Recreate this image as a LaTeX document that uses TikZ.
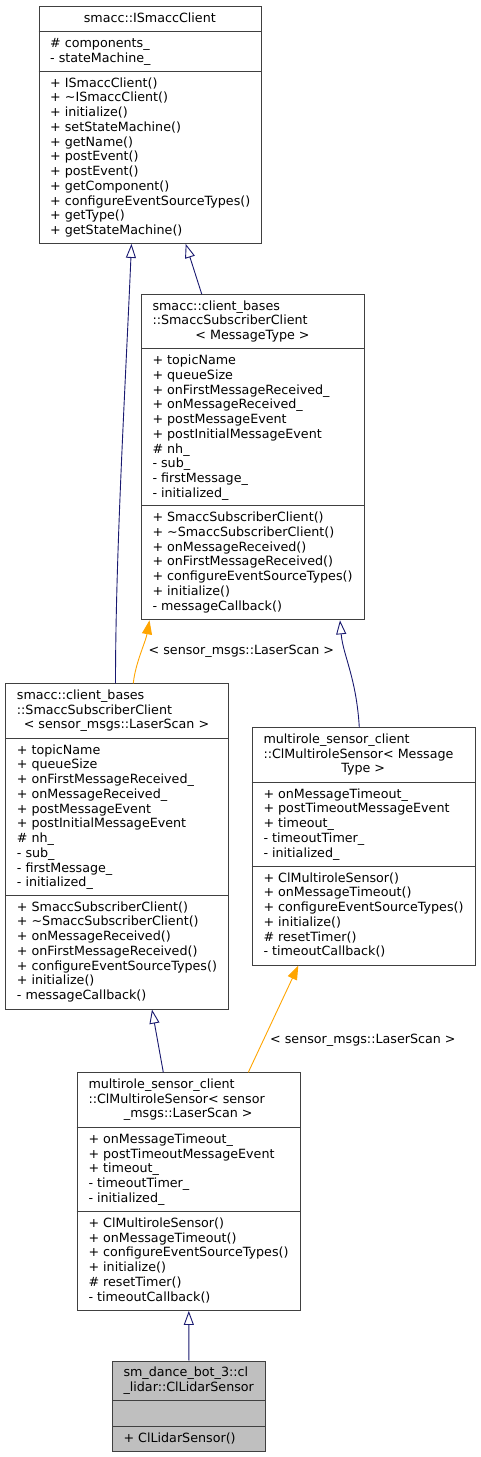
\documentclass[tikz,border=0pt]{standalone}
\usepackage{fontspec}
\setmainfont{DejaVu Sans}
\usetikzlibrary{arrows.meta}
\definecolor{boxgray}{HTML}{404040}
\definecolor{inhblue}{HTML}{191970}
\definecolor{tmplorange}{HTML}{FFA500}
\definecolor{leafgray}{HTML}{BFBFBF}
\begin{document}
\begin{tikzpicture}[x=1pt, y=-1pt,
  cls/.style={draw=boxgray, line width=0.9pt, anchor=north west, inner sep=0pt},
  sep/.style={draw=boxgray, line width=0.9pt},
  memb/.style={anchor=north west, inner sep=0pt, align=left, font=\fontsize{12.7}{14.75}\selectfont},
  ctitle/.style={anchor=north, inner sep=0pt, font=\fontsize{12.7}{14.75}\selectfont},
  inh/.style={draw=inhblue, line width=0.9pt, -{Triangle[open, length=14pt, width=10pt]}},
  tmpl/.style={draw=tmplorange, line width=0.9pt, -{Triangle[length=14pt, width=10pt]}},
  lbl/.style={anchor=west, inner sep=0pt, font=\fontsize{12.7}{14.75}\selectfont}]
\fill[white] (0,0) rectangle (480,1457);

% smacc::ISmaccClient
\node[cls, minimum width=222.3pt, minimum height=237pt] (isc) at (38.7,6) {};
\draw[sep] ([yshift=-25.3pt]isc.north west) -- ([yshift=-25.3pt]isc.north east);
\draw[sep] ([yshift=-65pt]isc.north west) -- ([yshift=-65pt]isc.north east);
\node[ctitle] (iscT) at (149.8,11.5) {\strut smacc::ISmaccClient};
\node[memb] (iscA) at (50,36.8) {\strut\# components\_\\- stateMachine\_};
\node[memb] (iscM) at (50,76.5) {\strut + ISmaccClient()\\+ \textasciitilde ISmaccClient()\\+ initialize()\\+ setStateMachine()\\+ getName()\\+ postEvent()\\+ postEvent()\\+ getComponent()\\+ configureEventSourceTypes()\\+ getType()\\+ getStateMachine()};

% smacc::client_bases::SmaccSubscriberClient< MessageType >
\node[cls, minimum width=222.4pt, minimum height=325.4pt] (subMsg) at (141.3,294) {};
\draw[sep] ([yshift=-54.7pt]subMsg.north west) -- ([yshift=-54.7pt]subMsg.north east);
\draw[sep] ([yshift=-211.7pt]subMsg.north west) -- ([yshift=-211.7pt]subMsg.north east);
\node[memb] (subMsgT) at (152.3,299.5) {\strut smacc::client\_bases\\::SmaccSubscriberClient};
\node[ctitle] (subMsgT2) at (252.5,329) {\strut < MessageType >};
\node[memb] (subMsgA) at (152.3,354.2) {\strut + topicName\\+ queueSize\\+ onFirstMessageReceived\_\\+ onMessageReceived\_\\+ postMessageEvent\\+ postInitialMessageEvent\\\# nh\_\\- sub\_\\- firstMessage\_\\- initialized\_};
\node[memb] (subMsgM) at (152.3,511.2) {\strut + SmaccSubscriberClient()\\+ \textasciitilde SmaccSubscriberClient()\\+ onMessageReceived()\\+ onFirstMessageReceived()\\+ configureEventSourceTypes()\\+ initialize()\\- messageCallback()};

% smacc::client_bases::SmaccSubscriberClient< sensor_msgs::LaserScan >
\node[cls, minimum width=223pt, minimum height=325.4pt] (subScan) at (5,683.3) {};
\draw[sep] ([yshift=-54.7pt]subScan.north west) -- ([yshift=-54.7pt]subScan.north east);
\draw[sep] ([yshift=-211.7pt]subScan.north west) -- ([yshift=-211.7pt]subScan.north east);
\node[memb] (subScanT) at (16.7,688.8) {\strut smacc::client\_bases\\::SmaccSubscriberClient};
\node[ctitle] (subScanT2) at (116.5,718.3) {\strut < sensor\_msgs::LaserScan >};
\node[memb] (subScanA) at (16.7,743.5) {\strut + topicName\\+ queueSize\\+ onFirstMessageReceived\_\\+ onMessageReceived\_\\+ postMessageEvent\\+ postInitialMessageEvent\\\# nh\_\\- sub\_\\- firstMessage\_\\- initialized\_};
\node[memb] (subScanM) at (16.7,900.5) {\strut + SmaccSubscriberClient()\\+ \textasciitilde SmaccSubscriberClient()\\+ onMessageReceived()\\+ onFirstMessageReceived()\\+ configureEventSourceTypes()\\+ initialize()\\- messageCallback()};

% multirole_sensor_client::ClMultiroleSensor< MessageType >
\node[cls, minimum width=223pt, minimum height=237.4pt] (multiMsg) at (251.7,727.3) {};
\draw[sep] ([yshift=-54.7pt]multiMsg.north west) -- ([yshift=-54.7pt]multiMsg.north east);
\draw[sep] ([yshift=-138.7pt]multiMsg.north west) -- ([yshift=-138.7pt]multiMsg.north east);
\node[memb] (multiMsgT) at (263.3,732.8) {\strut multirole\_sensor\_client\\::ClMultiroleSensor< Message};
\node[ctitle] (multiMsgT2) at (363.2,762.3) {\strut Type >};
\node[memb] (multiMsgA) at (263.3,787.5) {\strut + onMessageTimeout\_\\+ postTimeoutMessageEvent\\+ timeout\_\\- timeoutTimer\_\\- initialized\_};
\node[memb] (multiMsgM) at (263.3,871.5) {\strut + ClMultiroleSensor()\\+ onMessageTimeout()\\+ configureEventSourceTypes()\\+ initialize()\\\# resetTimer()\\- timeoutCallback()};

% multirole_sensor_client::ClMultiroleSensor< sensor_msgs::LaserScan >
\node[cls, minimum width=223.3pt, minimum height=237.7pt] (multiScan) at (76.7,1072.3) {};
\draw[sep] ([yshift=-55pt]multiScan.north west) -- ([yshift=-55pt]multiScan.north east);
\draw[sep] ([yshift=-139pt]multiScan.north west) -- ([yshift=-139pt]multiScan.north east);
\node[memb] (multiScanT) at (88.3,1077.8) {\strut multirole\_sensor\_client\\::ClMultiroleSensor< sensor};
\node[ctitle] (multiScanT2) at (188.3,1107.3) {\strut \_msgs::LaserScan >};
\node[memb] (multiScanA) at (88.3,1132.8) {\strut + onMessageTimeout\_\\+ postTimeoutMessageEvent\\+ timeout\_\\- timeoutTimer\_\\- initialized\_};
\node[memb] (multiScanM) at (88.3,1216.8) {\strut + ClMultiroleSensor()\\+ onMessageTimeout()\\+ configureEventSourceTypes()\\+ initialize()\\\# resetTimer()\\- timeoutCallback()};

% sm_dance_bot_3::cl_lidar::ClLidarSensor
\node[cls, fill=leafgray, minimum width=152.4pt, minimum height=90.6pt] (lidar) at (112.3,1360.7) {};
\draw[sep] ([yshift=-40pt]lidar.north west) -- ([yshift=-40pt]lidar.north east);
\draw[sep] ([yshift=-65.3pt]lidar.north west) -- ([yshift=-65.3pt]lidar.north east);
\node[memb] (lidarT) at (123.3,1366.2) {\strut sm\_dance\_bot\_3::cl\\\_lidar::ClLidarSensor};
\node[memb] (lidarM) at (123.3,1431.5) {\strut + ClLidarSensor()};

% Inheritance
\draw[inh] ([xshift=110.5pt]subScan.north west) .. controls +(0,-130) and +(-6,140) .. ([xshift=92.8pt]isc.south west);
\draw[inh] ([xshift=60.4pt]subMsg.north west) -- ([xshift=147pt]isc.south west);
\draw[inh] ([xshift=107.6pt]multiMsg.north west) .. controls +(-3,-50) and +(3,35) .. ([xshift=198.7pt]subMsg.south west);
\draw[inh] ([xshift=86.6pt]multiScan.north west) -- ([xshift=147pt]subScan.south west);
\draw[inh] (lidar.north) -- (multiScan.south);

% Template instances
\draw[tmpl] ([xshift=128.3pt]subScan.north west) .. controls +(2,-20) and +(-4,22) .. ([xshift=8.2pt]subMsg.south west);
\node[lbl] (lblSub) at (148.5,651) {< sensor\_msgs::LaserScan >};
\draw[tmpl] ([xshift=171.6pt]multiScan.north west) -- ([xshift=46.6pt]multiMsg.south west);
\node[lbl] (lblMulti) at (270,1040) {< sensor\_msgs::LaserScan >};
\end{tikzpicture}
\end{document}
